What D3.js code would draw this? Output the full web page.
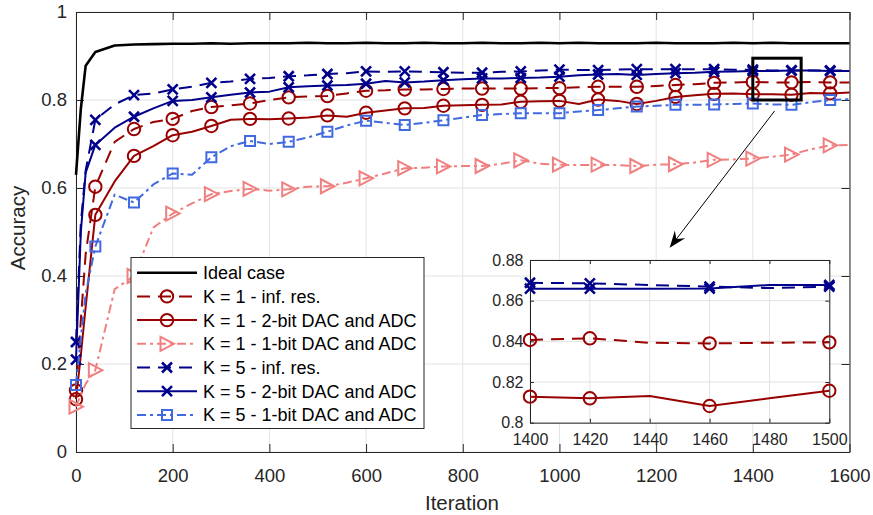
<!DOCTYPE html>
<html><head><meta charset="utf-8">
<script src="https://cdn.jsdelivr.net/npm/d3@7"></script>
<style>
body{margin:0;background:#fff;}
svg{display:block;font-family:"Liberation Sans",Arial,Helvetica,sans-serif;}
</style>
</head><body>
<svg id="chart" width="873" height="515"></svg>
<script>
// ---------------- data ----------------
const iterations = [0,10,20,40,80,120,160,200,240,280,
  320,360,400,440,480,520,560,600,640,680,
  720,760,800,840,880,920,960,1000,1040,1080,
  1120,1160,1200,1240,1280,1320,1360,1400,1440,1480,
  1520,1560,1600];

const idealCase = [0.63,0.78,0.878,0.909,0.924,0.926,0.927,0.928,0.928,0.929,
  0.928,0.929,0.929,0.929,0.930,0.929,0.929,0.930,0.929,0.929,
  0.930,0.929,0.929,0.930,0.929,0.929,0.930,0.929,0.930,0.929,
  0.929,0.929,0.930,0.929,0.929,0.929,0.930,0.929,0.930,0.929,
  0.929,0.929,0.929];

const k1InfRes = [0.14,0.30,0.45,0.603,0.705,0.734,0.750,0.757,0.775,0.784,
  0.788,0.792,0.800,0.806,0.808,0.809,0.815,0.821,0.822,0.824,
  0.824,0.825,0.826,0.826,0.826,0.826,0.827,0.827,0.829,0.830,
  0.830,0.830,0.832,0.834,0.836,0.839,0.840,0.841,0.840,0.840,
  0.841,0.840,0.840];

const k1TwoBit = [0.12,0.22,0.33,0.539,0.615,0.673,0.695,0.720,0.728,0.741,
  0.755,0.757,0.756,0.758,0.760,0.765,0.762,0.771,0.776,0.781,
  0.782,0.787,0.788,0.789,0.790,0.796,0.797,0.798,0.791,0.801,
  0.798,0.791,0.798,0.807,0.811,0.814,0.815,0.813,0.813,0.812,
  0.816,0.815,0.817];

const k1OneBit = [0.103,0.13,0.155,0.186,0.37,0.40,0.51,0.542,0.565,0.586,
  0.593,0.598,0.594,0.597,0.603,0.604,0.612,0.622,0.633,0.645,
  0.646,0.649,0.650,0.650,0.655,0.663,0.655,0.653,0.652,0.653,
  0.652,0.650,0.653,0.654,0.658,0.664,0.665,0.667,0.671,0.676,
  0.688,0.697,0.698];

const k5InfRes = [0.25,0.52,0.64,0.755,0.79,0.811,0.815,0.824,0.830,0.839,
  0.842,0.848,0.850,0.854,0.856,0.859,0.861,0.865,0.864,0.865,
  0.864,0.863,0.862,0.862,0.864,0.865,0.867,0.869,0.868,0.868,
  0.869,0.870,0.870,0.870,0.870,0.870,0.869,0.869,0.867,0.867,
  0.867,0.867,0.867];

const k5TwoBit = [0.21,0.50,0.635,0.698,0.737,0.762,0.781,0.798,0.800,0.806,
  0.812,0.817,0.819,0.829,0.831,0.833,0.834,0.837,0.843,0.840,
  0.842,0.845,0.847,0.849,0.849,0.850,0.851,0.853,0.856,0.858,
  0.859,0.857,0.859,0.861,0.862,0.864,0.865,0.866,0.866,0.867,
  0.867,0.866,0.866];

const k5OneBit = [0.152,0.26,0.36,0.467,0.585,0.567,0.608,0.633,0.630,0.670,
  0.695,0.707,0.700,0.705,0.715,0.728,0.742,0.753,0.748,0.743,
  0.748,0.754,0.760,0.766,0.768,0.770,0.770,0.770,0.774,0.777,
  0.781,0.785,0.787,0.789,0.789,0.790,0.791,0.792,0.790,0.789,
  0.795,0.800,0.802];

const seriesLabels = ["Ideal case","K = 1 - inf. res.","K = 1 - 2-bit DAC and ADC",
  "K = 1 - 1-bit DAC and ADC","K = 5 - inf. res.","K = 5 - 2-bit DAC and ADC",
  "K = 5 - 1-bit DAC and ADC"];

const xTicks = [0,200,400,600,800,1000,1200,1400,1600];
const yTicks = [0,0.2,0.4,0.6,0.8,1];
const yTickLabels = ["0","0.2","0.4","0.6","0.8","1"];
const xLabel = "Iteration";
const yLabel = "Accuracy";

// inset (zoom of 1400-1500)
const insetIterations = [1400,1420,1440,1460,1480,1500];
const insetMarkerIterations = [1400,1420,1460,1500];
const insetK1InfRes = [0.8407,0.8415,0.8393,0.8390,0.8393,0.8395];
const insetK1TwoBit = [0.8128,0.8120,0.8131,0.8082,0.8120,0.8157];
const insetK5InfRes = [0.8688,0.8685,0.8677,0.8669,0.8662,0.8669];
const insetK5TwoBit = [0.8659,0.8659,0.8659,0.8660,0.8677,0.8677];
const insetXTicks = [1400,1420,1440,1460,1480,1500];
const insetYTicks = [0.8,0.82,0.84,0.86,0.88];
const insetYTickLabels = ["0.8","0.82","0.84","0.86","0.88"];
const zoomRegionX = [1400,1500];
const zoomRegionY = [0.80,0.895];
const arrowFrom = [1445,0.775];
const arrowTo = [1228,0.464];

// ---------------- styles ----------------
const C_K1 = "#990000", C_K1L = "#f08080", C_K5 = "#00008b", C_K5L = "#4169e1";
const DASH = "13,8", DASHDOT = "9,4,3,4";
const series = [
  {label:seriesLabels[0], values:idealCase, color:"#000", dash:null, marker:null, w:2.6},
  {label:seriesLabels[1], values:k1InfRes, color:C_K1, dash:DASH, marker:"circle", w:2},
  {label:seriesLabels[2], values:k1TwoBit, color:C_K1, dash:null, marker:"circle", w:2},
  {label:seriesLabels[3], values:k1OneBit, color:C_K1L, dash:DASHDOT, marker:"tri", w:2},
  {label:seriesLabels[4], values:k5InfRes, color:C_K5, dash:DASH, marker:"x", w:2},
  {label:seriesLabels[5], values:k5TwoBit, color:C_K5, dash:null, marker:"x", w:2},
  {label:seriesLabels[6], values:k5OneBit, color:C_K5L, dash:DASHDOT, marker:"square", w:2}
];
const insetSeries = [
  {values:insetK1TwoBit, s:series[2]},
  {values:insetK1InfRes, s:series[1]},
  {values:insetK5TwoBit, s:series[5]},
  {values:insetK5InfRes, s:series[4]}
];

const AX = "#262626", GRID = "#e3e3e3";
const svg = d3.select("#chart");

function markerPath(type){
  const p = d3.path();
  if(type==="circle"){ p.arc(0,0,6.2,0,2*Math.PI); }
  else if(type==="x"){ const a=5; p.moveTo(-a,-a);p.lineTo(a,a);p.moveTo(-a,a);p.lineTo(a,-a); }
  else if(type==="square"){ const a=5; p.rect(-a,-a,2*a,2*a); }
  else if(type==="tri"){ p.moveTo(-6.5,-7);p.lineTo(-6.5,7);p.lineTo(7,0);p.closePath(); }
  return p.toString();
}
function drawMarker(g,type,cx,cy,color){
  g.append("path").attr("d",markerPath(type)).attr("transform",`translate(${cx},${cy})`)
   .attr("fill","none").attr("stroke",color).attr("stroke-width",type==="x"?2.6:2);
}

// ---------------- main axes ----------------
const L=76, R=849.5, T=12, B=452;
const x = d3.scaleLinear().domain([0,1600]).range([L,R]);
const y = d3.scaleLinear().domain([0,1]).range([B,T]);

const grid = svg.append("g");
xTicks.forEach(t=>grid.append("line").attr("x1",x(t)).attr("x2",x(t)).attr("y1",T).attr("y2",B).attr("stroke",GRID).attr("stroke-width",1));
yTicks.forEach(t=>grid.append("line").attr("x1",L).attr("x2",R).attr("y1",y(t)).attr("y2",y(t)).attr("stroke",GRID).attr("stroke-width",1));

function styleAxis(g,fs){
  g.select(".domain").attr("stroke",AX).attr("stroke-width",1);
  g.selectAll(".tick line").attr("stroke",AX).attr("stroke-width",1);
  g.selectAll(".tick text").attr("fill",AX).attr("font-size",fs).attr("font-family","Liberation Sans, Arial, sans-serif");
}
const gx = svg.append("g").attr("transform",`translate(0,${B})`)
  .call(d3.axisBottom(x).tickValues(xTicks).tickFormat(d3.format("d")).tickSize(-8).tickSizeOuter(0).tickPadding(16.5));
styleAxis(gx,18.5);
const gy = svg.append("g").attr("transform",`translate(${L},0)`)
  .call(d3.axisLeft(y).tickValues(yTicks).tickFormat((d,i)=>yTickLabels[i]).tickSize(-8).tickSizeOuter(0).tickPadding(9));
styleAxis(gy,18.5);
const gxt = svg.append("g").attr("transform",`translate(0,${T})`)
  .call(d3.axisTop(x).tickValues(xTicks).tickFormat("").tickSize(-8).tickSizeOuter(0));
styleAxis(gxt,18.5);
const gyr = svg.append("g").attr("transform",`translate(${R},0)`)
  .call(d3.axisRight(y).tickValues(yTicks).tickFormat("").tickSize(-8).tickSizeOuter(0));
styleAxis(gyr,18.5);

svg.append("text").attr("x",462).attr("y",510).attr("text-anchor","middle")
  .attr("font-size",20.5).attr("fill",AX).text(xLabel);
svg.append("text").attr("transform","translate(25,228) rotate(-90)").attr("text-anchor","middle")
  .attr("font-size",20.5).attr("fill",AX).text(yLabel);

// ---------------- series ----------------
const plot = svg.append("g");
const isMarkerIter = it => it===0 || (it-40)%80===0;
series.forEach(s=>{
  const pts = iterations.map((it,i)=>[it,s.values[i]]);
  plot.append("path").datum(pts)
    .attr("d",d3.line().x(d=>x(d[0])).y(d=>y(d[1])))
    .attr("fill","none").attr("stroke",s.color).attr("stroke-width",s.w)
    .attr("stroke-dasharray",s.dash).attr("stroke-linejoin","round");
  if(s.marker){
    pts.filter(d=>isMarkerIter(d[0])).forEach(d=>drawMarker(plot,s.marker,x(d[0]),y(d[1]),s.color));
  }
});

// zoom region rectangle
svg.append("rect").attr("x",x(zoomRegionX[0])).attr("y",y(zoomRegionY[1]))
  .attr("width",x(zoomRegionX[1])-x(zoomRegionX[0])).attr("height",y(zoomRegionY[0])-y(zoomRegionY[1]))
  .attr("fill","none").attr("stroke","#000").attr("stroke-width",3);

// arrow
{
  const x1=x(arrowFrom[0]), y1=y(arrowFrom[1]), x2=x(arrowTo[0]), y2=y(arrowTo[1]);
  const ang = Math.atan2(y2-y1,x2-x1);
  const len=17, half=6.5, back=11;
  const ux=Math.cos(ang), uy=Math.sin(ang), px=-uy, py=ux;
  svg.append("line").attr("x1",x1).attr("y1",y1).attr("x2",x2-ux*8).attr("y2",y2-uy*8)
    .attr("stroke","#000").attr("stroke-width",1);
  const bx=x2-ux*len, by=y2-uy*len, mx=x2-ux*back, my=y2-uy*back;
  svg.append("path").attr("d",`M${x2},${y2}L${bx+px*half},${by+py*half}L${mx},${my}L${bx-px*half},${by-py*half}Z`)
    .attr("fill","#000");
}

// ---------------- legend ----------------
const lg = svg.append("g");
lg.append("rect").attr("x",131).attr("y",257.5).attr("width",293).attr("height",171)
  .attr("fill","#fff").attr("stroke",AX).attr("stroke-width",1);
series.forEach((s,i)=>{
  const cy = 272.7 + i*23.7;
  lg.append("line").attr("x1",137).attr("x2",197).attr("y1",cy).attr("y2",cy)
    .attr("stroke",s.color).attr("stroke-width",s.w).attr("stroke-dasharray",s.dash);
  if(s.marker) drawMarker(lg,s.marker,167,cy,s.color);
  lg.append("text").attr("x",203).attr("y",cy+6.4).attr("font-size",18).attr("fill","#000").text(s.label);
});

// ---------------- inset ----------------
const iL=530, iR=829.3, iT=260, iB=422.7;
const xi = d3.scaleLinear().domain([1400,1500]).range([iL,iR]);
const yi = d3.scaleLinear().domain([0.8,0.88]).range([iB,iT]);
const ins = svg.append("g");
ins.append("rect").attr("x",iL).attr("y",iT).attr("width",iR-iL).attr("height",iB-iT).attr("fill","#fff");
insetXTicks.forEach(t=>ins.append("line").attr("x1",xi(t)).attr("x2",xi(t)).attr("y1",iT).attr("y2",iB).attr("stroke",GRID));
insetYTicks.forEach(t=>ins.append("line").attr("x1",iL).attr("x2",iR).attr("y1",yi(t)).attr("y2",yi(t)).attr("stroke",GRID));
const ix = ins.append("g").attr("transform",`translate(0,${iB})`)
  .call(d3.axisBottom(xi).tickValues(insetXTicks).tickFormat(d3.format("d")).tickSize(-4).tickSizeOuter(0).tickPadding(10.5));
styleAxis(ix,16);
const iy = ins.append("g").attr("transform",`translate(${iL},0)`)
  .call(d3.axisLeft(yi).tickValues(insetYTicks).tickFormat((d,i)=>insetYTickLabels[i]).tickSize(-4).tickSizeOuter(0).tickPadding(6.5));
styleAxis(iy,16);
const ixt = ins.append("g").attr("transform",`translate(0,${iT})`)
  .call(d3.axisTop(xi).tickValues(insetXTicks).tickFormat("").tickSize(-4).tickSizeOuter(0));
styleAxis(ixt,16);
const iyr = ins.append("g").attr("transform",`translate(${iR},0)`)
  .call(d3.axisRight(yi).tickValues(insetYTicks).tickFormat("").tickSize(-4).tickSizeOuter(0));
styleAxis(iyr,16);
insetSeries.forEach(o=>{
  const s=o.s;
  const pts = insetIterations.map((it,i)=>[it,o.values[i]]);
  ins.append("path").datum(pts)
    .attr("d",d3.line().x(d=>xi(d[0])).y(d=>yi(d[1])))
    .attr("fill","none").attr("stroke",s.color).attr("stroke-width",s.w)
    .attr("stroke-dasharray",s.dash).attr("stroke-linejoin","round");
  pts.filter(d=>insetMarkerIterations.includes(d[0])).forEach(d=>drawMarker(ins,s.marker,xi(d[0]),yi(d[1]),s.color));
});
</script>
</body></html>
